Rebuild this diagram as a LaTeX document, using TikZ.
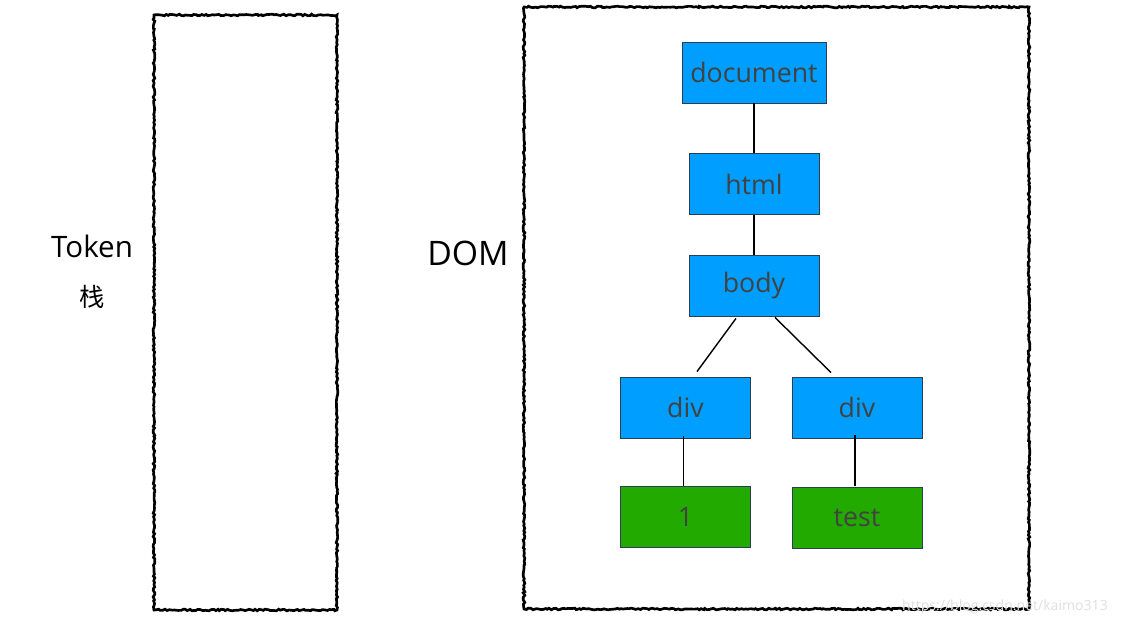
\documentclass[tikz,border=0pt]{standalone}
\usepackage{fontspec}
\setmainfont{Open Sans}
\newfontfamily\cjkfont{Noto Sans CJK SC}
\usetikzlibrary{calc, decorations.pathmorphing}
\definecolor{domblue}{HTML}{009EFF}
\definecolor{domgreen}{HTML}{22AA00}
\definecolor{boxedge}{HTML}{2B3E55}
\definecolor{boxtext}{HTML}{424242}

\begin{document}
\begin{tikzpicture}[x=0.025cm, y=-0.025cm,
  sketch/.style={draw=black, line width=1.9pt,
    decorate, decoration={random steps, segment length=1.5pt, amplitude=0.6pt}},
  elem/.style={rectangle, draw=boxedge, line width=0.6pt, fill=domblue,
    minimum width=130*0.025cm, minimum height=61*0.025cm,
    font=\fontsize{19}{22}\selectfont, text=boxtext, inner sep=0pt},
  leaf/.style={elem, fill=domgreen},
  lbl/.style={font=\fontsize{21}{24}\selectfont, text=black},
  edge/.style={line width=1pt, black}]
  \useasboundingbox (0,0) rectangle (1121,629);

  % token stack and dom frame
  \draw[sketch] (154,15) rectangle (337,610);
  \draw[sketch] (524,7) rectangle (1029,609);
  \node[lbl] (token) at (92,246) {Token};
  \node[lbl, font=\cjkfont\fontsize{18}{20}\selectfont] (stack) at (92,297) {栈};
  \node[lbl, font=\fontsize{24}{26}\selectfont] (dom) at (468,253) {DOM};

  % tree
  \node[elem, minimum width=144*0.025cm] (document) at (754,72.5) {document};
  \node[elem] (html) at (754,184) {html};
  \node[elem] (body) at (754,285.5) {body};
  \node[elem] (divl) at (685.5,407.5) {div};
  \node[elem] (divr) at (857,407.5) {div};
  \node[leaf] (one) at (685.5,517) {1};
  \node[leaf] (test) at (857,517.5) {test};

  \draw[edge] (document) -- (html);
  \draw[edge] (html) -- (body);
  \draw[edge] ($(body.south)+(-18,2)$) -- ($(divl.north)+(11.5,-5)$);
  \draw[edge] ($(body.south)+(21,1)$) -- ($(divr.north)+(-26,-4)$);
  \draw[edge] ($(divl.south)+(-2,-2)$) -- ($(one.north)+(-2,0)$);
  \draw[edge] ($(divr.south)+(-2,-3)$) -- ($(test.north)+(-2,-1)$);

  \node[font=\fontsize{10}{12}\selectfont, text=gray!25] (mark) at (1005,607) {https://blog.csdn.net/kaimo313};
\end{tikzpicture}
\end{document}
